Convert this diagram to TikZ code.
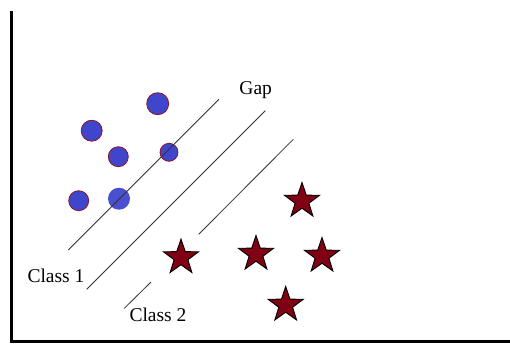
\documentclass[tikz,border=0pt]{standalone}
\usepackage{fontspec}
\setmainfont{Liberation Serif}
\usetikzlibrary{shapes.geometric}
\definecolor{dotblue}{RGB}{64,70,204}
\definecolor{dotrim}{RGB}{140,20,40}
\definecolor{starred}{RGB}{128,0,20}
\tikzset{
  dot/.style={circle,fill=dotblue,draw=dotrim,line width=0.8pt,inner sep=0pt,minimum size=#1},
  starmark/.style={star,star points=5,star point ratio=2.55,fill=starred,draw=black,line width=0.9pt,inner sep=0pt,minimum size=37pt},
  gapline/.style={gray!40!black,line width=0.8pt},
  lbl/.style={anchor=base,font=\fontsize{19.5}{22}\selectfont}
}
\begin{document}
\begin{tikzpicture}[x=1pt,y=-1pt]
  \useasboundingbox (0,0) rectangle (510,343);
  % Axes
  \draw[line width=3.5pt] (11.5,11) -- (11.5,343);
  \draw[line width=3pt] (10,341.5) -- (510,341.5);
  % Class 1 points
  \node[dot=22pt] (c1) at (157.7,103.7) {};
  \node[dot=21pt] (c2) at (91.7,130.7) {};
  \node[dot=20pt] (c3) at (118.3,156.7) {};
  \node[dot=18pt] (c4) at (169,152.3) {};
  \node[dot=20pt] (c5) at (78.7,200.7) {};
  \node[dot=22pt,draw=none,fill=dotblue!95!white] (c6) at (119,198.7) {};
  % Class 2 points
  \node[starmark] (s1) at (302,201) {};
  \node[starmark] (s2) at (181,257.5) {};
  \node[starmark] (s3) at (256,254) {};
  \node[starmark] (s4) at (322,256) {};
  \node[starmark] (s5) at (285.7,305) {};
  % Separating lines
  \draw[gapline] (68.3,250) -- (219,99.3);
  \draw[gapline] (86.7,289.3) -- (265.3,110.7);
  \draw[gapline] (198.7,234.3) -- (293.3,139.3);
  \draw[gapline] (124.3,308.3) -- (151,282);
  % Labels
  \node[lbl] (gap) at (255.7,94.3) {Gap};
  \node[lbl] (cl1) at (56,282.7) {Class 1};
  \node[lbl] (cl2) at (158,321.7) {Class 2};
\end{tikzpicture}
\end{document}
